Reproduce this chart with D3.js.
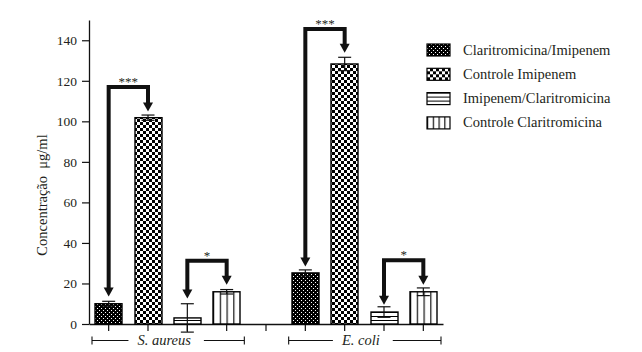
<!DOCTYPE html>
<html>
<head>
<meta charset="utf-8">
<script src="https://cdn.jsdelivr.net/npm/d3@7"></script>
<style>
  body { margin: 0; background: #fff; }
  text { font-family: "Liberation Serif", "DejaVu Serif", serif; fill: #231f20; }
</style>
</head>
<body>
<div id="chart"></div>
<script>
// data
const groups = ["S. aureus", "E. coli"];
const series = ["Claritromicina/Imipenem", "Controle Imipenem", "Imipenem/Claritromicina", "Controle Claritromicina"];
const saureusValues = [10, 101.8, 3, 15.9];
const saureusErrors = [1.2, 1.3, 7, 1.1];
const ecoliValues = [25.2, 128.3, 5.9, 15.9];
const ecoliErrors = [1.5, 3.3, 2.6, 1.9];
const yTicks = [0, 20, 40, 60, 80, 100, 120, 140];

// significance brackets: group, left series idx, right series idx, bracket level, arrow tip levels, label
const bracketGroups = ["S. aureus", "S. aureus", "E. coli", "E. coli"];
const bracketPairs = [[0, 1], [2, 3], [0, 1], [2, 3]];
const bracketLevels = [117, 31.2, 145.6, 31.4];
const bracketTips = [[13.6, 104.9], [12.6, 19.4], [28.4, 133.8], [9.5, 19.4]];
const bracketLabels = ["***", "*", "***", "*"];

const W = 642, H = 352;
const margin = {top: 20, left: 89};
const plotW = 354, plotH = 304;

const svg = d3.select("#chart").append("svg")
    .attr("width", W).attr("height", H);

// patterns (integer sized so they stay crisp)
const defs = svg.append("defs");
let p = defs.append("pattern").attr("id", "pDots")
    .attr("patternUnits", "userSpaceOnUse").attr("width", 4).attr("height", 4);
p.append("rect").attr("width", 4).attr("height", 4).attr("fill", "#000");
p.append("rect").attr("x", 0).attr("y", 0).attr("width", 1).attr("height", 1).attr("fill", "#fff");
p.append("rect").attr("x", 2).attr("y", 2).attr("width", 1).attr("height", 1).attr("fill", "#fff");

p = defs.append("pattern").attr("id", "pChecker")
    .attr("patternUnits", "userSpaceOnUse").attr("width", 6).attr("height", 6);
p.append("rect").attr("width", 6).attr("height", 6).attr("fill", "#000");
p.append("rect").attr("x", 0).attr("y", 0).attr("width", 3).attr("height", 3).attr("fill", "#fff");
p.append("rect").attr("x", 3).attr("y", 3).attr("width", 3).attr("height", 3).attr("fill", "#fff");

p = defs.append("pattern").attr("id", "pHoriz")
    .attr("patternUnits", "userSpaceOnUse").attr("width", 8).attr("height", 4);
p.append("rect").attr("width", 8).attr("height", 4).attr("fill", "#fff");
p.append("rect").attr("y", 0).attr("width", 8).attr("height", 1).attr("fill", "#000");

p = defs.append("pattern").attr("id", "pVert")
    .attr("patternUnits", "objectBoundingBox").attr("width", 0.25).attr("height", 1);
p.append("rect").attr("width", 200).attr("height", 400).attr("fill", "#fff");
p.append("rect").attr("x", 0).attr("width", 1.2).attr("height", 400).attr("fill", "#111");

const fills = ["url(#pDots)", "url(#pChecker)", "url(#pHoriz)", "url(#pVert)"];

const g = svg.append("g").attr("transform", `translate(${margin.left},${margin.top})`);

// 9 slots: 4 bars, gap, 4 bars
const slots = [];
groups.forEach((grp, gi) => {
    series.forEach(s => slots.push(grp + "|" + s));
    if (gi === 0) slots.push("gap");
});

const x = d3.scaleBand().domain(slots).range([0, plotW]).padding(0);
const y = d3.scaleLinear().domain([0, 150]).range([plotH, 0]);
const barW = 27;

const data = [];
series.forEach((s, i) => {
    data.push({group: "S. aureus", series: s, idx: i, value: saureusValues[i], err: saureusErrors[i]});
    data.push({group: "E. coli", series: s, idx: i, value: ecoliValues[i], err: ecoliErrors[i]});
});
const cx = (grp, i) => x(grp + "|" + series[i]) + x.bandwidth() / 2;

// axes
const yAxis = g.append("g")
    .call(d3.axisLeft(y).tickValues(yTicks).tickSize(7).tickSizeOuter(0).tickPadding(5));
yAxis.select(".domain").attr("stroke", "#111").attr("stroke-width", 1.3);
yAxis.selectAll(".tick line").attr("stroke", "#111").attr("stroke-width", 1.2);
yAxis.selectAll(".tick text").style("font-size", "13.5px")
    .style("font-family", "'Liberation Serif', serif").attr("fill", "#231f20");

const xAxis = g.append("g").attr("transform", `translate(0,${plotH})`)
    .call(d3.axisBottom(x).tickSize(7).tickSizeOuter(0).tickFormat(""));
xAxis.select(".domain").attr("stroke", "#111").attr("stroke-width", 1.3);
xAxis.selectAll(".tick line").attr("stroke", "#111").attr("stroke-width", 1.2);

// bars
g.selectAll("rect.bar").data(data).join("rect")
    .attr("class", "bar")
    .attr("x", d => Math.round(cx(d.group, d.idx) - barW / 2))
    .attr("width", barW)
    .attr("y", d => y(d.value))
    .attr("height", d => y(0) - y(d.value))
    .attr("fill", d => fills[d.idx])
    .attr("stroke", "#000").attr("stroke-width", 1.4);

// error bars
const eb = g.selectAll("g.err").data(data).join("g").attr("class", "err")
    .attr("stroke", "#111").attr("stroke-width", 1.2);
eb.append("line")
    .attr("x1", d => cx(d.group, d.idx)).attr("x2", d => cx(d.group, d.idx))
    .attr("y1", d => y(d.value + d.err)).attr("y2", d => y(d.value - d.err));
eb.append("line")
    .attr("x1", d => cx(d.group, d.idx) - 6.5).attr("x2", d => cx(d.group, d.idx) + 6.5)
    .attr("y1", d => y(d.value + d.err)).attr("y2", d => y(d.value + d.err));
eb.append("line")
    .attr("x1", d => cx(d.group, d.idx) - 6.5).attr("x2", d => cx(d.group, d.idx) + 6.5)
    .attr("y1", d => y(d.value - d.err)).attr("y2", d => y(d.value - d.err));

// significance brackets with arrows
const headH = 9, headW = 10;
bracketGroups.forEach((grp, i) => {
    const x1 = cx(grp, bracketPairs[i][0]), x2 = cx(grp, bracketPairs[i][1]);
    const yb = y(bracketLevels[i]);
    const t1 = y(bracketTips[i][0]), t2 = y(bracketTips[i][1]);
    g.append("path")
        .attr("d", `M${x1},${t1 - headH + 1}V${yb}H${x2}V${t2 - headH + 1}`)
        .attr("fill", "none").attr("stroke", "#111").attr("stroke-width", 4)
        .attr("stroke-linejoin", "miter");
    [[x1, t1], [x2, t2]].forEach(([ax, ay]) => {
        g.append("path")
            .attr("d", `M${ax - headW / 2},${ay - headH}L${ax + headW / 2},${ay - headH}L${ax},${ay}Z`)
            .attr("fill", "#111");
    });
    g.append("text")
        .attr("x", (x1 + x2) / 2).attr("y", yb - 1)
        .attr("text-anchor", "middle")
        .style("font-size", "13px")
        .text(bracketLabels[i]);
});

// group labels under the axis
groups.forEach(grp => {
    const left = x(grp + "|" + series[0]) + 3;
    const right = x(grp + "|" + series[3]) + x.bandwidth() - 2;
    const mid = (left + right) / 2;
    const yy = plotH + 16.5;
    const t = g.append("text")
        .attr("x", mid - 4).attr("y", yy + 4.5)
        .attr("text-anchor", "middle")
        .style("font-size", "14.5px").style("font-style", "italic")
        .text(grp);
    const tw = t.node().getComputedTextLength();
    const gap = tw / 2 + 9;
    const lg = g.append("g").attr("stroke", "#111").attr("stroke-width", 1.1);
    lg.append("line").attr("x1", left).attr("x2", mid - gap - 4).attr("y1", yy).attr("y2", yy);
    lg.append("line").attr("x1", mid + gap).attr("x2", right).attr("y1", yy).attr("y2", yy);
    lg.append("line").attr("x1", left).attr("x2", left).attr("y1", yy - 4).attr("y2", yy + 4);
    lg.append("line").attr("x1", right).attr("x2", right).attr("y1", yy - 4).attr("y2", yy + 4);
});

// y label
svg.append("text")
    .attr("transform", "translate(47,195) rotate(-90)")
    .attr("text-anchor", "middle")
    .style("font-size", "14.5px")
    .style("white-space", "pre")
    .text("Concentração  μg/ml");

// legend
const legend = svg.append("g").attr("transform", "translate(427,44)");
series.forEach((s, i) => {
    const row = legend.append("g").attr("transform", `translate(0,${i * 24.3})`);
    row.append("rect").attr("width", 23).attr("height", 12)
        .attr("fill", fills[i]).attr("stroke", "#000").attr("stroke-width", 1.2);
    row.append("text").attr("x", 36).attr("y", 10.5)
        .style("font-size", "14.5px").text(s);
});
</script>
</body>
</html>
